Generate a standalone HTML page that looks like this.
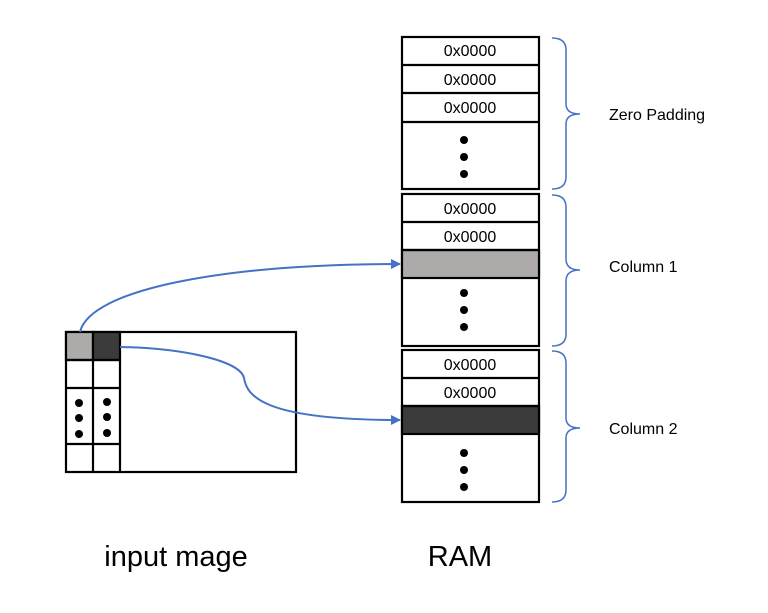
<!DOCTYPE html>
<html><head><style>
body{margin:0;background:#fff;width:768px;height:608px;overflow:hidden}
text{font-family:"Liberation Sans",sans-serif}
</style></head><body>
<svg width="768" height="608" xmlns="http://www.w3.org/2000/svg">
<defs><marker id="a" markerWidth="10" markerHeight="10" refX="9" refY="5" orient="auto" markerUnits="userSpaceOnUse"><path d="M0,0 L10,5 L0,10z" fill="#4472c4"/></marker></defs>
<g stroke="#000" stroke-width="2.2" fill="#fff">
<rect x="402" y="37" width="137" height="152"/>
<rect x="402" y="194" width="137" height="152"/>
<rect x="402" y="350" width="137" height="152"/>
<rect x="402" y="250" width="137" height="28" fill="#aeaaaa"/>
<rect x="402" y="406" width="137" height="28" fill="#3b3b3b"/>
<path d="M402 65H539M402 93H539M402 122H539M402 222H539M402 250H539M402 378H539M402 406H539" fill="none"/>
<rect x="66" y="332" width="230" height="140"/>
<rect x="66" y="332" width="27" height="28" fill="#aeaaaa"/>
<rect x="93" y="332" width="27" height="28" fill="#3b3b3b"/>
<path d="M93 360V472M120 360V472M66 360H120M66 388H120M66 444H120" fill="none"/>
</g>
<g fill="#000">
<circle cx="464" cy="140" r="4"/><circle cx="464" cy="157" r="4"/><circle cx="464" cy="174" r="4"/>
<circle cx="464" cy="293" r="4"/><circle cx="464" cy="310" r="4"/><circle cx="464" cy="327" r="4"/>
<circle cx="464" cy="453" r="4"/><circle cx="464" cy="470" r="4"/><circle cx="464" cy="487" r="4"/>
<circle cx="79" cy="403" r="4"/><circle cx="79" cy="418" r="4"/><circle cx="79" cy="434" r="4"/>
<circle cx="107" cy="402" r="4"/><circle cx="107" cy="417" r="4"/><circle cx="107" cy="433" r="4"/>
</g>
<g font-size="16" text-anchor="middle">
<text x="470" y="56">0x0000</text><text x="470" y="85">0x0000</text><text x="470" y="113">0x0000</text>
<text x="470" y="214">0x0000</text><text x="470" y="242">0x0000</text>
<text x="470" y="370">0x0000</text><text x="470" y="398">0x0000</text>
</g>
<g font-size="16">
<text x="609" y="120">Zero Padding</text>
<text x="609" y="272">Column 1</text>
<text x="609" y="434">Column 2</text>
</g>
<text x="176" y="566" font-size="29" text-anchor="middle">input mage</text>
<text x="460" y="566" font-size="29" text-anchor="middle">RAM</text>
<g stroke="#4472c4" stroke-width="1.5" fill="none">
<path d="M552 38Q566 38 566 50V104Q566 114 580 114Q566 114 566 124V177Q566 189 552 189"/>
<path d="M552 195Q566 195 566 207V259Q566 270 580 270Q566 270 566 281V334Q566 346 552 346"/>
<path d="M552 351Q566 351 566 363V418Q566 428 580 428Q566 428 566 438V490Q566 502 552 502"/>
<path d="M80 332C90 290 220 264 400 264" marker-end="url(#a)" stroke-width="2"/>
<path d="M120 347C180 348 240 360 244 378C247 395 260 420 400 420" marker-end="url(#a)" stroke-width="2"/>
</g>
</svg>
</body></html>
